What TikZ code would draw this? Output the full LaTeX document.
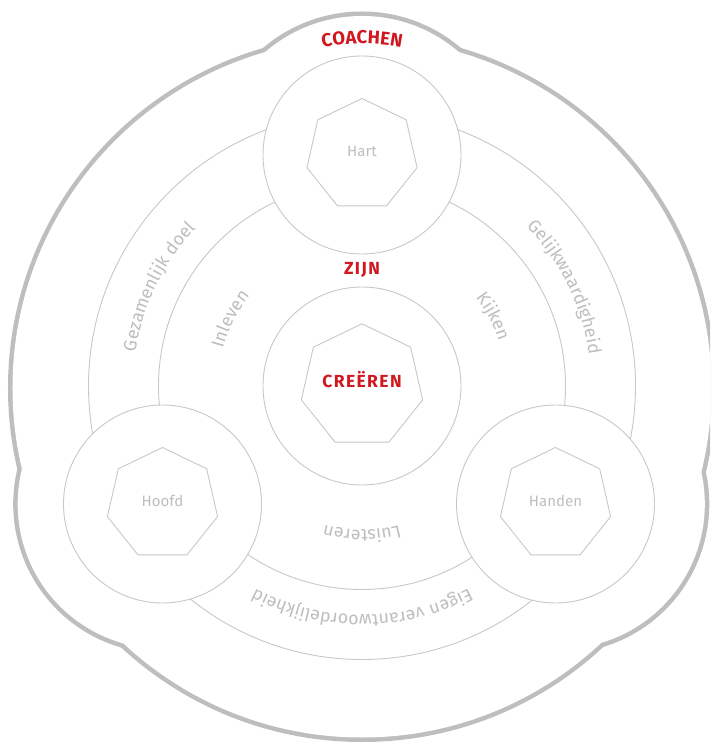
\documentclass[tikz,border=0pt]{standalone}
\usepackage{fontspec}
\setmainfont{Fira Sans}
\newfontfamily\redfont[LetterSpace=8]{Fira Sans}
\newfontfamily\arcfont[LetterSpace=5]{Fira Sans}
\usetikzlibrary{shapes.geometric}
\usetikzlibrary{decorations.text}
\definecolor{coachred}{RGB}{209,24,32}
\definecolor{linegray}{RGB}{200,200,200}
\definecolor{blobgray}{RGB}{190,190,190}
\definecolor{textgray}{RGB}{190,190,190}
\newcommand{\graytext}{\fontsize{15}{18}\selectfont}
\newcommand{\curvetext}{\arcfont\fontsize{17.8}{20}\selectfont}
\newcommand{\redtext}{\redfont\bfseries\fontsize{17.5}{20}\selectfont}

\begin{document}
\begin{tikzpicture}[x=1pt,y=1pt,
  sat/.style={circle, draw=linegray, line width=0.9pt, fill=white, minimum size=198pt, inner sep=0pt}]
    \tikzset{hept/.style={regular polygon, regular polygon sides=7, draw=linegray, line width=0.9pt, minimum size=113pt, inner sep=0pt, text height=11pt, text depth=7pt, font=\graytext, text=textgray}}
    \tikzset{blob/.style={draw=blobgray, line width=9pt},
    arctext/.style={decorate, decoration={text along path, text align=center, text color=textgray, text={|\curvetext|#1}}}}
    \useasboundingbox (-362,-357) rectangle (348,386);
    \clip (-362,-357) rectangle (348,386);
    % outer outline: strokes first, white fill hides the inner halves
    \foreach \x/\y/\r in {0/-2/349.5, 0/222/148, -199.5/-118/144.8, 198/-118/144.8} {
    \draw[blob] (\x,\y) circle (\r);
    }
    \foreach \x/\y/\r in {0/-2/349.5, 0/222/148, -199.5/-118/144.8, 198/-118/144.8} {
    \fill[white] (\x,\y) circle (\r);
    }

    \draw[linegray, line width=0.9pt] (0,0) circle (273.5) (0,0) circle (203.5);

    \node[sat] (hart) at (0,231) {};
    \node[sat] (hoofd) at (-199.5,-118) {};
    \node[sat] (handen) at (193.5,-118) {};
    \node[sat] (kern) at (0,0) {};

    \node[hept] (hart7) at (hart) {Hart};
    \node[hept] (hoofd7) at (hoofd) {Hoofd};
    \node[hept] (handen7) at (handen) {Handen};
    \node[hept, font=\redtext, text=coachred] (creeren) at (kern) {CREËREN};

    \node[font=\redtext, text=coachred, anchor=base] (zijn) at (0,111) {ZIJN};

    \path[arctext={Gezamenlijk doel}] (214:229) arc[start angle=214, end angle=94, radius=229];
    \path[arctext={Gelijkwaardigheid}] (86:229) arc[start angle=86, end angle=-34, radius=229];
    \path[arctext={Eigen verantwoordelijkheid}] (340:229) arc[start angle=340, end angle=200, radius=229];
    \path[arctext={Inleven}] (203:144) arc[start angle=203, end angle=103, radius=144];
    \path[arctext={Kijken}] (78:144) arc[start angle=78, end angle=-22, radius=144];
    \path[arctext={Luisteren}] (320:144) arc[start angle=320, end angle=220, radius=144];

    \path[decorate, decoration={text along path, text align=center, text color=coachred, text={|\redfont\bfseries\fontsize{18.5}{21}\selectfont|COACHEN}}]
    ([shift={(0,147.5)}]130:195) arc[start angle=130, end angle=50, radius=195];
\end{tikzpicture}
\end{document}
